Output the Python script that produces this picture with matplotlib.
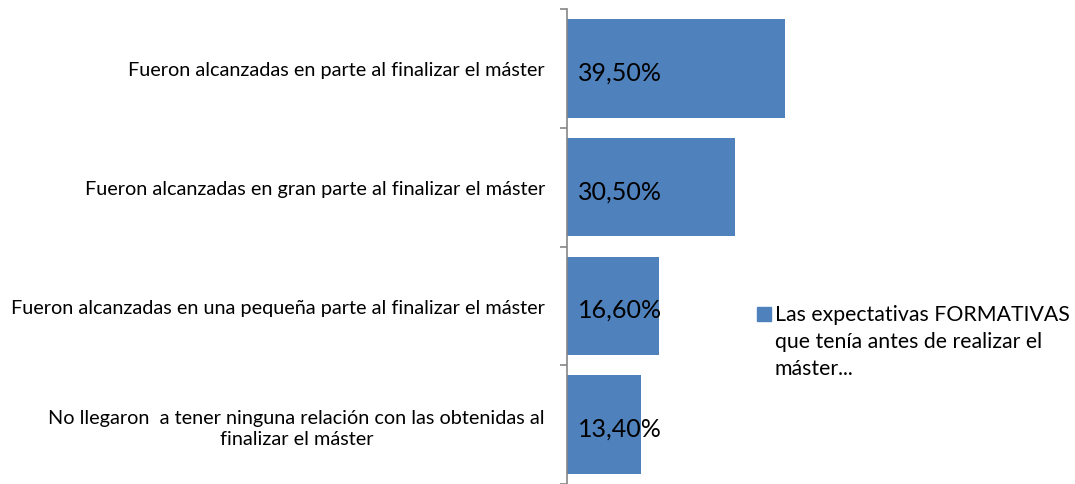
import matplotlib.pyplot as plt
from matplotlib.patches import Rectangle

plt.rcParams['font.family'] = ['Lato', 'DejaVu Sans']

categories = [
    "Fueron alcanzadas en parte al finalizar el máster",
    "Fueron alcanzadas en gran parte al finalizar el máster",
    "Fueron alcanzadas en una pequeña parte al finalizar el máster",
    "No llegaron  a tener ninguna relación con las obtenidas al\nfinalizar el máster",
]
values = [39.5, 30.5, 16.6, 13.4]
value_labels = ["39,50%", "30,50%", "16,60%", "13,40%"]
series_name = "Las expectativas FORMATIVAS\nque tenía antes de realizar el\nmáster..."

color = '#4F81BD'
W, H = 1075, 485
fig = plt.figure(figsize=(W / 100, H / 100), dpi=100)
ax = fig.add_axes([567 / W, 0, 276 / W, 475 / H])

y = list(range(len(values)))
ax.barh(y, values, height=0.83, color=color)
ax.set_xlim(0, 50)
ax.set_ylim(len(values) - 0.5, -0.5)

for yi, v, lab in zip(y, values, value_labels):
    ax.text(2.0, yi + 0.03, lab, va='center', ha='left', fontsize=18, color='black')

for s in ['top', 'right', 'bottom']:
    ax.spines[s].set_visible(False)
ax.spines['left'].set_color('#868686')
ax.spines['left'].set_linewidth(1.2)
ax.set_xticks([])
ax.set_yticks(y)
ax.set_yticklabels(categories, fontsize=14.3, ha='right', multialignment='center',
                   linespacing=1.3)
ax.tick_params(axis='y', which='major', length=0, pad=16)
ax.set_yticks([i - 0.5 for i in range(len(values) + 1)], minor=True)
ax.tick_params(axis='y', which='minor', length=5, width=1.2, color='#868686')

# legend drawn by hand: square aligned with the first line
fig.add_artist(Rectangle((757 / W, 1 - 322 / H), 14 / W, 14 / H,
                         transform=fig.transFigure, color=color))
fig.text(775 / W, 1 - 305 / H, series_name, ha='left', va='top',
         fontsize=15.3, linespacing=1.45)

fig.savefig('out.png', dpi=100)
